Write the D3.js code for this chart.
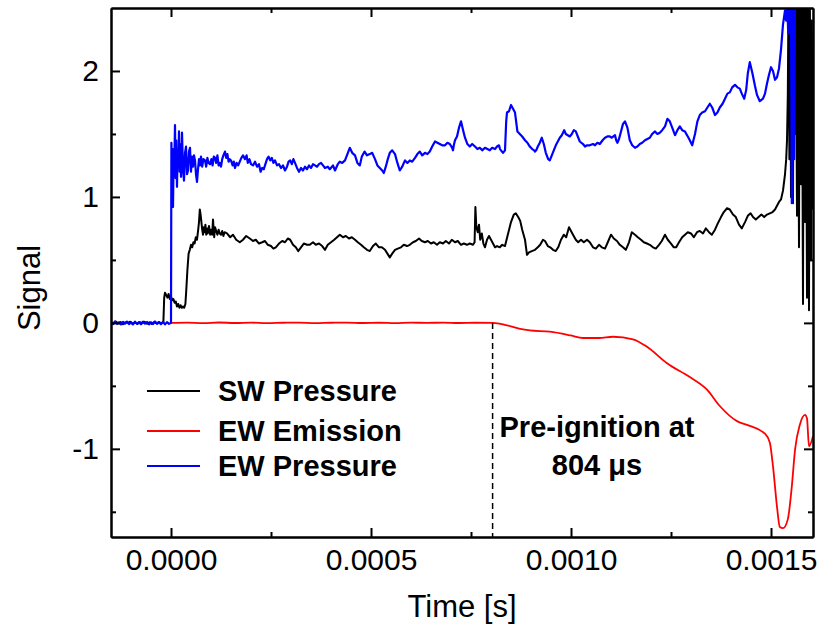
<!DOCTYPE html>
<html>
<head>
<meta charset="utf-8">
<script src="https://cdn.jsdelivr.net/npm/d3@7"></script>
<style>
  body { margin: 0; background: #fff; }
  svg { display: block; }
  text { font-family: "Liberation Sans", Arial, sans-serif; }
</style>
</head>
<body>
<svg id="chart" width="823" height="633"></svg>
<script>
// ---------- DATA (time in microseconds, signal in arbitrary units) ----------
const xTickValues = [0, 0.0005, 0.0010, 0.0015];
const xMinorTicks = [0.00025, 0.00075, 0.00125];
const yTickValues = [-1, 0, 1, 2];
const yMinorTicks = [-1.5, -0.5, 0.5, 1.5];
const seriesNames = ["SW Pressure", "EW Emission", "EW Pressure"];
const seriesColors = ["#000000", "#ff0000", "#0000ff"];
const preIgnitionUs = 804;
const annotationLines = ["Pre-ignition at", "804 \u03bcs"];

// SW Pressure (black)
const swT = [-150,-144,-138,-132,-126,-120,-114,-108,-102,-96,-90,-84,-78,-72,-66,-60,-54,-48,-42,-36,-30,-24,-19,
  -17,-15,-12,-9,-6,-3,0,3,6,9,12,15,18,21,24,27,30,33,36,38,41,44,47,50,53,56,59,62,65,68,70,72,74,76,78,80,82,84,86,88,90,92,95,98,100,103,105,108,110,113,116,119,122,125,128,131,134,
  140,148,155,163,172,180,188,197,205,212,220,228,235,242,250,256,262,270,278,285,292,298,305,312,318,325,332,340,347,355,362,370,378,
  385,392,400,408,415,422,430,437,445,452,460,467,475,482,490,497,505,512,520,527,535,541,547,553,560,567,575,582,590,597,605,612,620,627,635,642,650,657,665,672,680,687,695,702,710,717,725,732,740,747,755,759,
  761,763,765,767,770,773,777,781,785,790,795,800,805,810,815,822,828,835,842,850,857,862,868,873,878,885,890,895,902,910,917,923,930,935,942,948,955,962,968,975,982,988,995,1000,1005,1012,1018,1025,1032,1040,1047,1055,1062,1070,1077,1085,1092,1100,1107,1115,1122,1130,1137,1145,1152,1160,1167,1175,1182,1190,1197,1205,1212,1220,1227,1235,1242,1250,1257,1263,1270,1278,1285,1292,1300,1307,1315,1322,1330,1337,1345,1352,1360,1367,1375,1382,1390,1397,1405,1412,1420,1427,1435,1442,1449,1455,1462,1469,1476,1483,1490,1497,1504,1510,1515,1520,1525,1530,1535,1538,
  1540,1542,1544,1546,1548,1550,1552,1555,1557,1560,1562,1565,1567,1570,1572,1575,1577,1580,1582,1585,1587,1590,1592,1595,1597,1600,1602,1605];
const swV = [0.005,-0.008,0.01,-0.004,0.006,-0.01,0.004,0.0,0.009,-0.006,0.005,-0.009,0.006,-0.003,0.008,-0.007,0.004,-0.008,0.006,-0.004,0.007,-0.005,0.01,
  0.2,0.24,0.22,0.2,0.23,0.19,0.21,0.18,0.19,0.16,0.17,0.13,0.15,0.12,0.14,0.12,0.13,0.12,0.15,0.25,0.42,0.55,0.58,0.62,0.6,0.64,0.63,0.68,0.66,0.74,0.8,0.9,0.86,0.8,0.74,0.7,0.76,0.72,0.78,0.7,0.75,0.71,0.77,0.7,0.74,0.7,0.82,0.68,0.76,0.73,0.7,0.74,0.71,0.7,0.73,0.69,0.72,
  0.71,0.68,0.70,0.66,0.64,0.66,0.69,0.67,0.65,0.66,0.63,0.64,0.65,0.62,0.61,0.59,0.6,0.63,0.65,0.64,0.67,0.66,0.62,0.6,0.57,0.6,0.63,0.62,0.62,0.64,0.62,0.63,0.61,
  0.58,0.62,0.64,0.66,0.68,0.70,0.68,0.69,0.67,0.68,0.66,0.64,0.62,0.6,0.58,0.57,0.61,0.63,0.6,0.6,0.58,0.55,0.52,0.55,0.58,0.59,0.6,0.62,0.61,0.62,0.64,0.65,0.67,0.65,0.64,0.65,0.63,0.64,0.62,0.64,0.63,0.65,0.63,0.66,0.64,0.65,0.62,0.63,0.62,0.63,0.62,0.64,
  0.92,0.78,0.74,0.72,0.78,0.66,0.71,0.63,0.6,0.66,0.69,0.66,0.63,0.6,0.61,0.6,0.62,0.61,0.7,0.8,0.86,0.87,0.84,0.81,0.74,0.66,0.54,0.56,0.57,0.58,0.6,0.62,0.66,0.65,0.61,0.6,0.58,0.57,0.6,0.66,0.7,0.68,0.76,0.73,0.7,0.66,0.64,0.66,0.64,0.66,0.64,0.6,0.59,0.62,0.6,0.59,0.64,0.7,0.67,0.65,0.62,0.6,0.58,0.64,0.72,0.7,0.68,0.66,0.64,0.63,0.62,0.6,0.59,0.62,0.65,0.7,0.66,0.63,0.6,0.6,0.64,0.68,0.7,0.72,0.71,0.68,0.72,0.73,0.71,0.75,0.72,0.7,0.74,0.79,0.84,0.88,0.91,0.9,0.86,0.84,0.78,0.75,0.8,0.85,0.87,0.84,0.82,0.84,0.86,0.84,0.86,0.87,0.88,0.9,0.93,0.96,0.98,1.05,1.18,1.3,
  1.45,1.8,2.7,1.3,2.7,1.0,2.7,0.95,2.7,1.5,2.7,0.85,2.7,0.6,2.7,1.1,2.7,0.15,2.7,0.8,2.7,0.2,2.7,0.1,2.7,0.5,2.4,0.9];

// EW Emission (red)
const emT = [0,40,80,120,160,200,240,280,320,360,400,440,480,520,560,600,640,680,720,760,805,840,870,897,947,1000,1030,1070,1105,1155,1190,1240,1297,1340,1372,1415,1440,1485,1497,1505,1515,1522,1530,1542,1552,1560,1572,1585,1590,1595,1605];
const emV = [0,0.002,-0.002,0.003,-0.001,0.002,-0.002,0.001,0.002,-0.002,0.001,0.002,-0.001,0.001,-0.002,0.002,0.0,0.002,-0.001,0.001,0,-0.02,-0.045,-0.06,-0.07,-0.1,-0.12,-0.12,-0.11,-0.13,-0.19,-0.32,-0.43,-0.53,-0.66,-0.78,-0.81,-0.88,-0.95,-1.14,-1.46,-1.62,-1.63,-1.56,-1.3,-1.01,-0.81,-0.73,-0.76,-0.98,-0.9];

// EW Pressure (blue)
const epT = [-150,-145,-140,-135,-130,-125,-120,-115,-110,-105,-100,-95,-90,-85,-80,-75,-70,-65,-60,-55,-50,-45,-40,-35,-30,-25,-20,-15,-10,-5,0,
  1,2.5,4,5,6.5,8,10,11.5,13,15,16.5,18,20,21.5,23,25,27.5,30,32.5,35,37.5,40,42.5,45,47.5,50,52.5,55,57.5,60,62.5,65,67.5,70,72.5,75,78,81,85,88,91,94,97.5,
  101,104,107,110,113,116,119,122,125,128,131,135,138,141,144,147,150,154,157,160,164,168,172,176,180,185,189,192,196,200,205,210,215,220,224,228,232,236,240,244,248,252,256,260,265,270,275,280,285,290,294,298,302,306,310,315,320,325,330,335,340,345,350,355,360,365,370,375,380,
  385,392,397,405,410,417,422,428,435,441,447,453,460,466,472,477,484,490,497,503,510,516,522,528,532,537,542,547,553,560,566,572,578,585,591,597,603,610,616,622,628,635,641,647,653,660,666,672,678,685,691,697,703,705,707,710,715,720,725,731,735,741,747,753,760,766,772,778,785,791,797,
  803,810,815,820,822.5,825,830,835,838,840,845,850,855,860,866,872,878,885,891,897,903,908,910,913,917,922,927,932,937,943,947,952,957,962,967,972,977,983,987,992,997,1002,1007,1012,1017,1022,1030,1035,1040,1047,1055,1060,1066,1072,1079,1085,1091,1097,1102,1110,1113,1116,1120,1125,1130,1135,1141,1147,1153,1160,1166,1172,1178,1185,1191,
  1197,1203,1210,1216,1222,1228,1235,1241,1247,1253,1260,1266,1272,1278,1285,1290,1292,1297,1303,1310,1316,1322,1328,1335,1341,1347,1353,1360,1366,1372,1379,1385,1391,1397,1403,1410,1416,1422,1427,1433,1438,1442,1447,1453,1460,1465,1472,1480,1485,1490,1495,1500,1505,1510,1515,1520,1525,1530,1535,1538,1540,1543,1547,1550,1552,1555,1558,1560];
const epV = [0.01,-0.01,0.012,-0.008,0.005,-0.012,0.008,-0.006,0.01,-0.01,0.004,-0.012,0.009,-0.007,0.006,-0.011,0.01,-0.006,0.007,-0.012,0.005,-0.009,0.011,-0.008,0.006,-0.01,0.008,-0.012,0.006,-0.008,0,
  1.43,1.1,1.38,0.92,1.3,1.2,1.57,1.15,1.45,1.08,1.35,1.25,1.52,1.2,1.42,1.16,1.51,1.22,1.13,1.35,1.4,1.18,1.21,1.36,1.39,1.2,1.32,1.24,1.33,1.29,1.18,1.12,1.22,1.3,1.25,1.32,1.24,1.3,1.29,1.24,1.31,1.27,1.26,
  1.3,1.25,1.32,1.31,1.27,1.33,1.25,1.27,1.24,1.3,1.33,1.36,1.31,1.34,1.28,1.3,1.29,1.25,1.28,1.23,1.27,1.25,1.28,1.31,1.33,1.3,1.33,1.27,1.3,1.26,1.25,1.28,1.24,1.26,1.2,1.23,1.22,1.26,1.3,1.32,1.29,1.31,1.27,1.29,1.25,1.26,1.23,1.25,1.21,1.24,1.28,1.29,1.26,1.3,1.27,1.23,1.2,1.23,1.21,1.24,1.22,1.25,1.23,1.26,1.25,1.24,1.26,1.27,1.25,1.23,1.24,1.22,1.25,
  1.21,1.26,1.28,1.27,1.29,1.34,1.39,1.35,1.33,1.27,1.25,1.32,1.36,1.33,1.34,1.35,1.3,1.25,1.23,1.21,1.19,1.24,1.3,1.35,1.37,1.34,1.27,1.21,1.24,1.29,1.27,1.29,1.28,1.31,1.34,1.36,1.33,1.35,1.34,1.36,1.4,1.44,1.43,1.42,1.41,1.41,1.43,1.42,1.39,1.37,1.41,1.45,1.48,1.55,1.6,1.52,1.47,1.42,1.4,1.42,1.4,1.38,1.39,1.37,1.39,1.38,1.37,1.39,1.38,1.4,1.41,
  1.38,1.37,1.35,1.37,1.6,1.67,1.68,1.73,1.7,1.67,1.52,1.5,1.48,1.45,1.43,1.4,1.38,1.37,1.36,1.37,1.4,1.43,1.47,1.42,1.35,1.3,1.29,1.33,1.37,1.41,1.44,1.47,1.49,1.53,1.5,1.49,1.48,1.5,1.53,1.52,1.48,1.44,1.42,1.4,1.41,1.41,1.42,1.41,1.43,1.42,1.45,1.47,1.48,1.48,1.47,1.49,1.45,1.43,1.46,1.52,1.58,1.6,1.55,1.45,1.41,1.39,1.4,1.42,1.43,1.45,1.46,1.47,1.5,1.52,1.5,
  1.51,1.53,1.56,1.62,1.6,1.55,1.49,1.53,1.56,1.53,1.52,1.49,1.48,1.45,1.41,1.5,1.6,1.65,1.67,1.68,1.71,1.74,1.71,1.65,1.67,1.71,1.74,1.78,1.82,1.83,1.87,1.89,1.87,1.86,1.82,1.78,1.85,1.98,2.07,1.99,1.88,1.81,1.76,1.78,1.82,1.9,1.97,2.03,2.0,1.93,1.95,2.02,2.17,2.37,2.48,2.4,2.6,2.3,2.6,2.5,0.95,2.6,1.3,2.6,1.4,2.6,2.2,2.6];

// ---------- CHART ----------
const W = 823, H = 633;
const margin = {left: 111, top: 8, right: 10, bottom: 96};
const iw = W - margin.left - margin.right;
const ih = H - margin.top - margin.bottom;

const svg = d3.select("#chart");
const g = svg.append("g").attr("transform", `translate(${margin.left},${margin.top})`);

const x = d3.scaleLinear().domain([-0.00015, 0.001605]).range([0, iw]);
const y = d3.scaleLinear().domain([-1.7, 2.5]).range([ih, 0]);

svg.append("defs").append("clipPath").attr("id", "clip")
  .append("rect").attr("x", 0).attr("y", 0).attr("width", iw).attr("height", ih);

const plot = g.append("g").attr("clip-path", "url(#clip)");

const line = d3.line().x(d => x(d[0] * 1e-6)).y(d => y(d[1]));
const smooth = d3.line().x(d => x(d[0] * 1e-6)).y(d => y(d[1])).curve(d3.curveMonotoneX);

const sw = swT.map((t, i) => [t, swV[i]]);
const em = emT.map((t, i) => [t, emV[i]]);
const ep = epT.map((t, i) => [t, epV[i]]);

plot.append("path").datum(em).attr("d", smooth)
  .attr("fill", "none").attr("stroke", seriesColors[1]).attr("stroke-width", 1.8);
plot.append("path").datum(sw).attr("d", line)
  .attr("fill", "none").attr("stroke", seriesColors[0]).attr("stroke-width", 2).attr("stroke-linejoin", "round");
plot.append("path").datum(ep).attr("d", line)
  .attr("fill", "none").attr("stroke", seriesColors[2]).attr("stroke-width", 2.2).attr("stroke-linejoin", "round");

// dashed pre-ignition line
g.append("line")
  .attr("x1", x(preIgnitionUs * 1e-6)).attr("x2", x(preIgnitionUs * 1e-6))
  .attr("y1", y(0)).attr("y2", ih)
  .attr("stroke", "#000").attr("stroke-width", 1.5).attr("stroke-dasharray", "6,4");

// axes (inward ticks, mirrored)
const fontSize = 30;
const fmtY = d => String(d);
const axB = d3.axisBottom(x).tickValues(xTickValues).tickFormat(d3.format(".4f")).tickSizeInner(-9).tickSizeOuter(0).tickPadding(12);
const axBm = d3.axisBottom(x).tickValues(xMinorTicks).tickFormat("").tickSizeInner(-5).tickSizeOuter(0);
const axT = d3.axisTop(x).tickValues(xTickValues).tickFormat("").tickSizeInner(-9).tickSizeOuter(0);
const axTm = d3.axisTop(x).tickValues(xMinorTicks).tickFormat("").tickSizeInner(-5).tickSizeOuter(0);
const axL = d3.axisLeft(y).tickValues(yTickValues).tickFormat(fmtY).tickSizeInner(-9).tickSizeOuter(0).tickPadding(12);
const axLm = d3.axisLeft(y).tickValues(yMinorTicks).tickFormat("").tickSizeInner(-5).tickSizeOuter(0);
const axR = d3.axisRight(y).tickValues(yTickValues).tickFormat("").tickSizeInner(-9).tickSizeOuter(0);
const axRm = d3.axisRight(y).tickValues(yMinorTicks).tickFormat("").tickSizeInner(-5).tickSizeOuter(0);

function style(sel) {
  sel.selectAll("path.domain").attr("stroke", "#000").attr("stroke-width", 2);
  sel.selectAll(".tick line").attr("stroke", "#000").attr("stroke-width", 2);
  sel.selectAll(".tick text").attr("fill", "#000").style("font-size", fontSize + "px")
     .style("font-family", '"Liberation Sans", Arial, sans-serif');
}
g.append("g").attr("transform", `translate(0,${ih})`).call(axB).call(style);
g.append("g").attr("transform", `translate(0,${ih})`).call(axBm).call(style);
g.append("g").call(axT).call(style);
g.append("g").call(axTm).call(style);
g.append("g").call(axL).call(style);
g.append("g").call(axLm).call(style);
g.append("g").attr("transform", `translate(${iw},0)`).call(axR).call(style);
g.append("g").attr("transform", `translate(${iw},0)`).call(axRm).call(style);

// axis titles
svg.append("text").attr("x", 462).attr("y", 617)
  .attr("text-anchor", "middle").style("font-size", "31px").text("Time [s]");
svg.append("text").attr("transform", `translate(40,288) rotate(-90)`)
  .attr("text-anchor", "middle").style("font-size", "31px").text("Signal");

// legend
const legY = [391, 431, 466];
const legend = svg.append("g");
[0, 1, 2].forEach(i => {
  legend.append("line").attr("x1", 147).attr("x2", 200).attr("y1", legY[i]).attr("y2", legY[i])
    .attr("stroke", seriesColors[i]).attr("stroke-width", 1.8);
  legend.append("text").attr("x", 218).attr("y", legY[i] + 10)
    .style("font-size", "29px").style("font-weight", "bold").text(seriesNames[i]);
});

// annotation
annotationLines.forEach((s, i) => {
  svg.append("text").attr("x", 597).attr("y", 437 + i * 38)
    .attr("text-anchor", "middle").style("font-size", "29px").style("font-weight", "bold").text(s);
});
</script>
</body>
</html>
